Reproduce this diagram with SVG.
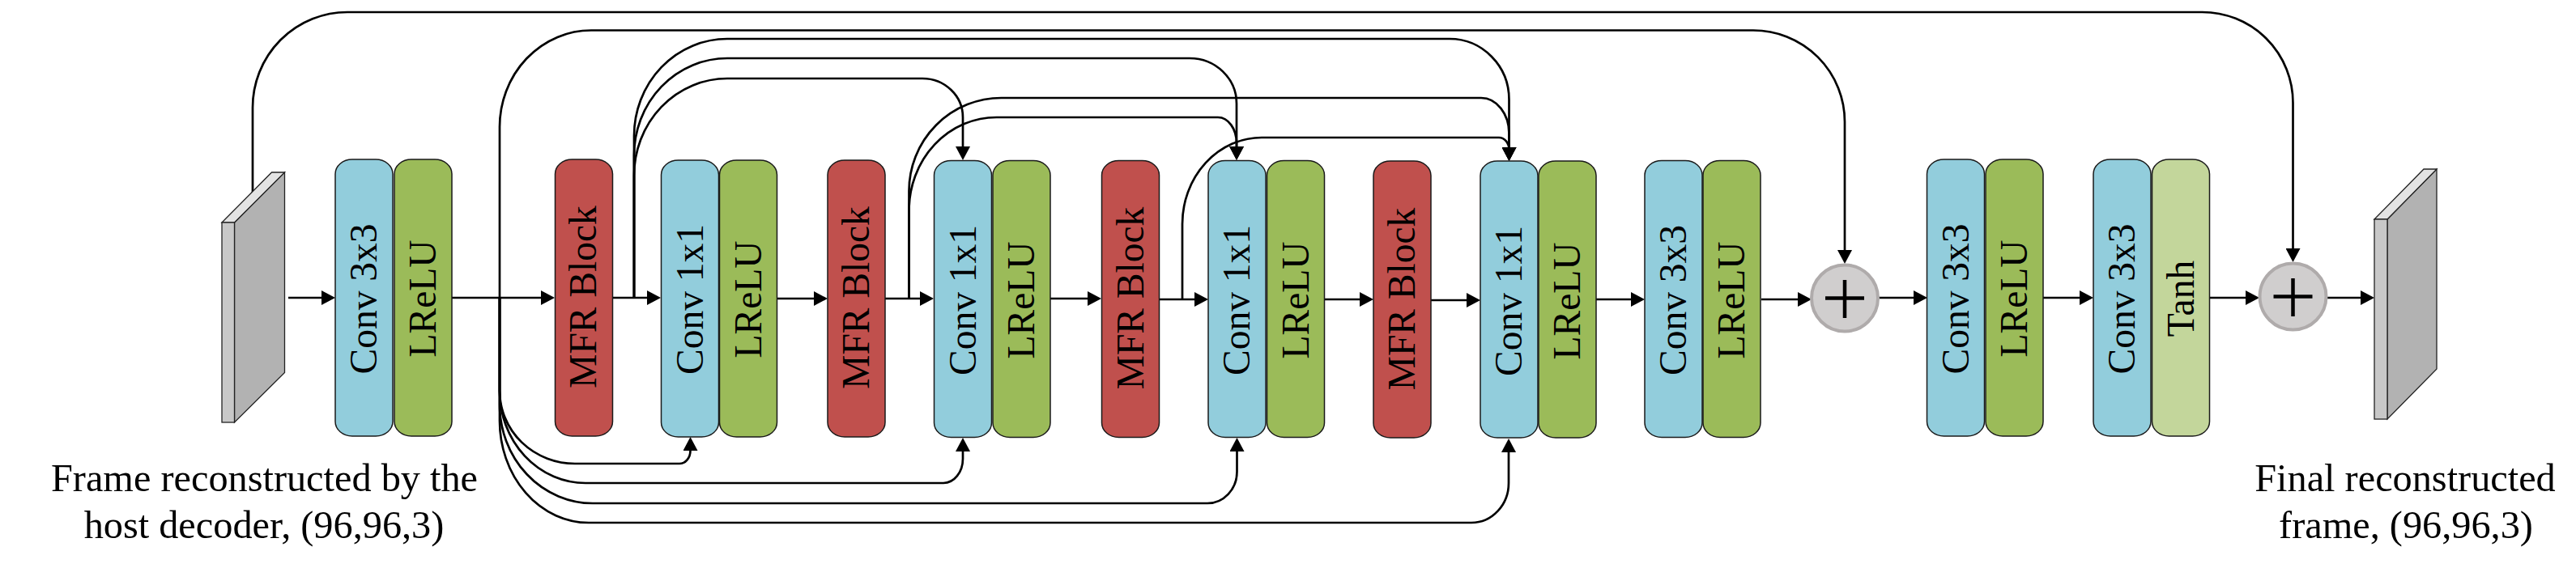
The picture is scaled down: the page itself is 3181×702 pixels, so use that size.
<svg xmlns="http://www.w3.org/2000/svg" width="3181" height="702" viewBox="0 0 3181 702">
<style>
text{font-family:"Liberation Serif","Times New Roman",serif;font-size:47.5px;fill:#000}
.lbl{text-anchor:middle}
.cap{font-size:48.3px}
.box{stroke:#1a1a1a;stroke-width:1.5}
.conv{fill:#92CDDC}.relu{fill:#9BBB59}.mfr{fill:#C0504D}.tanh{fill:#C3D69B}
.c{fill:none;stroke:#000;stroke-width:2.7}
.a{marker-end:url(#arrow)}
.fs{fill:#B2B2B2;stroke:#222;stroke-width:1.3}
.ff{fill:#C8C8C8;stroke:#222;stroke-width:1.3}
.ft{fill:#E3E3E3;stroke:#222;stroke-width:1.3}
.sum{fill:#D0CECE;stroke:#AFABAB;stroke-width:4}
.plus{fill:none;stroke:#000;stroke-width:4.5}
</style>
<defs>
<marker id="arrow" markerUnits="userSpaceOnUse" markerWidth="18" markerHeight="18" viewBox="0 0 17 18" refX="13" refY="9" orient="auto"><path d="M0 0L17 9L0 18Z" fill="#000"/></marker>
</defs>
<g id="connectors">
<path class="c a" d="M356 368H410"/>
<path class="c a" d="M558 368H681"/>
<path class="c a" d="M756 368H812"/>
<path class="c a" d="M959 369H1018"/>
<path class="c a" d="M1093 369H1149"/>
<path class="c a" d="M1296 369H1356"/>
<path class="c a" d="M1432 370H1488"/>
<path class="c a" d="M1635 370H1692"/>
<path class="c a" d="M1767 371H1824"/>
<path class="c a" d="M1971 370H2027"/>
<path class="c a" d="M2175 370H2233"/>
<path class="c a" d="M2318 368H2376"/>
<path class="c a" d="M2523 368H2581"/>
<path class="c a" d="M2728 368H2786"/>
<path class="c a" d="M2872 368H2928"/>
<path class="c a" d="M312 240V133A117 118 0 0 1 429 15H2719.500A112 112 0 0 1 2831.500 127V320"/>
<path class="c a" d="M617 368V157A113 119.500 0 0 1 730 37.500H2165A113 113 0 0 1 2278 150.500V322"/>
<path class="c a" d="M783 368V168A115 120 0 0 1 898 48H1790A73.500 75 0 0 1 1863.500 123V195"/>
<path class="c a" d="M783 368V192A115 120 0 0 1 898 72H1469A58 56 0 0 1 1527 128V194"/>
<path class="c a" d="M783 368V217A115 120 0 0 1 898 97H1139A50 48 0 0 1 1189 145V194"/>
<path class="c a" d="M1122.500 369V236A114 115 0 0 1 1236.500 121H1829A34.500 44 0 0 1 1863.500 165V195"/>
<path class="c a" d="M1122.500 369V260A108 115 0 0 1 1230.500 145H1504A23 32 0 0 1 1527 177V194"/>
<path class="c a" d="M1460 370V277A98 107 0 0 1 1558 170H1851A12.500 15 0 0 1 1863.500 185V195"/>
<path class="c a" d="M617 368V483A93 90 0 0 0 710 573H839A13.500 16 0 0 0 852.500 557V544"/>
<path class="c a" d="M617 368V483A106 114 0 0 0 723 597H1165A24 30 0 0 0 1189 567V545"/>
<path class="c a" d="M617 368V500A115 122 0 0 0 732 622H1491A36.500 39 0 0 0 1527.500 583V545"/>
<path class="c a" d="M617 368V520A110 126 0 0 0 727 646H1817A46 49 0 0 0 1863 597V546"/>
</g>
<g id="frame-in">
<polygon class="fs" points="289.500,275 351.500,213 351.500,460.500 289.500,522"/>
<polygon class="ft" points="274,275 335.500,213 351.500,213 289.500,275"/>
<rect class="ff" x="274" y="275" width="15.500" height="247"/>
</g>
<g id="conv-a"><rect class="box conv" x="414" y="197" width="71" height="342" rx="21" ry="18"/><text class="lbl" transform="translate(465 369.500) rotate(-90)">Conv 3x3</text></g>
<g id="relu-a"><rect class="box relu" x="487" y="197" width="71" height="342" rx="21" ry="18"/><text class="lbl" transform="translate(538 369) rotate(-90)">LReLU</text></g>
<g id="mfr-1"><rect class="box mfr" x="685.500" y="197" width="71" height="342" rx="21" ry="18"/><text class="lbl" transform="translate(736 367) rotate(-90)">MFR Block</text></g>
<g id="conv-1"><rect class="box conv" x="816.500" y="198" width="71" height="342" rx="21" ry="18"/><text class="lbl" transform="translate(867.500 370) rotate(-90)">Conv 1x1</text></g>
<g id="relu-1"><rect class="box relu" x="888.500" y="198" width="71" height="342" rx="21" ry="18"/><text class="lbl" transform="translate(939.500 370) rotate(-90)">LReLU</text></g>
<g id="mfr-2"><rect class="box mfr" x="1022" y="198" width="71" height="342" rx="21" ry="18"/><text class="lbl" transform="translate(1073 368) rotate(-90)">MFR Block</text></g>
<g id="conv-2"><rect class="box conv" x="1153.500" y="198.500" width="71" height="342" rx="21" ry="18"/><text class="lbl" transform="translate(1204.500 371) rotate(-90)">Conv 1x1</text></g>
<g id="relu-2"><rect class="box relu" x="1226" y="198.500" width="71" height="342" rx="21" ry="18"/><text class="lbl" transform="translate(1277 371) rotate(-90)">LReLU</text></g>
<g id="mfr-3"><rect class="box mfr" x="1360.500" y="198.500" width="71" height="342" rx="21" ry="18"/><text class="lbl" transform="translate(1411.500 368.500) rotate(-90)">MFR Block</text></g>
<g id="conv-3"><rect class="box conv" x="1492" y="198.500" width="71" height="342" rx="21" ry="18"/><text class="lbl" transform="translate(1543 371) rotate(-90)">Conv 1x1</text></g>
<g id="relu-3"><rect class="box relu" x="1564.500" y="198.500" width="71" height="342" rx="21" ry="18"/><text class="lbl" transform="translate(1615.500 371) rotate(-90)">LReLU</text></g>
<g id="mfr-4"><rect class="box mfr" x="1696" y="199" width="71" height="342" rx="21" ry="18"/><text class="lbl" transform="translate(1747 369.500) rotate(-90)">MFR Block</text></g>
<g id="conv-4"><rect class="box conv" x="1828" y="199" width="71" height="342" rx="21" ry="18"/><text class="lbl" transform="translate(1879 372) rotate(-90)">Conv 1x1</text></g>
<g id="relu-4"><rect class="box relu" x="1900" y="199" width="71" height="342" rx="21" ry="18"/><text class="lbl" transform="translate(1951 372) rotate(-90)">LReLU</text></g>
<g id="conv-5"><rect class="box conv" x="2031" y="198.500" width="71" height="342" rx="21" ry="18"/><text class="lbl" transform="translate(2082 371) rotate(-90)">Conv 3x3</text></g>
<g id="relu-5"><rect class="box relu" x="2103" y="198.500" width="71" height="342" rx="21" ry="18"/><text class="lbl" transform="translate(2154 371) rotate(-90)">LReLU</text></g>
<g id="sum-1"><circle class="sum" cx="2278" cy="368.500" r="41"/><path class="plus" d="M2254 368.500H2302M2278 346V393"/></g>
<g id="conv-6"><rect class="box conv" x="2379.500" y="197" width="71" height="342" rx="21" ry="18"/><text class="lbl" transform="translate(2430.500 369.500) rotate(-90)">Conv 3x3</text></g>
<g id="relu-6"><rect class="box relu" x="2452" y="197" width="71" height="342" rx="21" ry="18"/><text class="lbl" transform="translate(2503 369) rotate(-90)">LReLU</text></g>
<g id="conv-7"><rect class="box conv" x="2585" y="197" width="71" height="342" rx="21" ry="18"/><text class="lbl" transform="translate(2636 369.500) rotate(-90)">Conv 3x3</text></g>
<g id="tanh"><rect class="box tanh" x="2657.500" y="197" width="71" height="342" rx="21" ry="18"/><text class="lbl" transform="translate(2708.500 369) rotate(-90)">Tanh</text></g>
<g id="sum-2"><circle class="sum" cx="2831.500" cy="366.500" r="41"/><path class="plus" d="M2807.500 366.500H2855.500M2831.500 344V391"/></g>
<g id="frame-out">
<polygon class="fs" points="2948,271 3009,209 3009,456 2948,518"/>
<polygon class="ft" points="2932,271 2993,209 3009,209 2948,271"/>
<rect class="ff" x="2932" y="271" width="16" height="247"/>
</g>
<g id="caption-in"><text class="lbl cap" x="326.500" y="607">Frame reconstructed by the</text><text class="lbl cap" x="326" y="665">host decoder, (96,96,3)</text></g>
<g id="caption-out"><text class="lbl cap" x="2970" y="607">Final reconstructed</text><text class="lbl cap" x="2971" y="665">frame, (96,96,3)</text></g>
</svg>
